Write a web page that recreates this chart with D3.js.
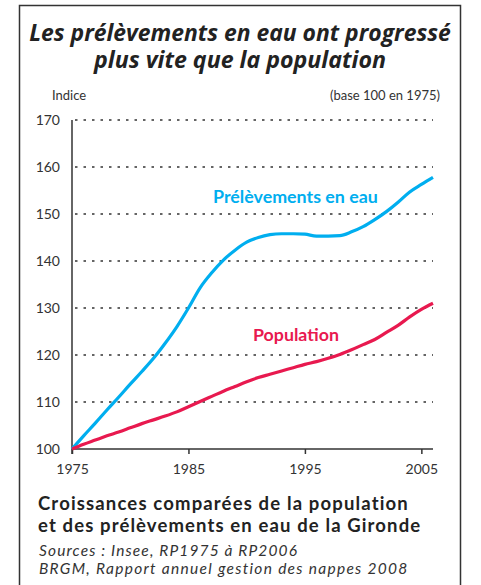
<!DOCTYPE html>
<html>
<head>
  <meta charset="utf-8">
  <title>Prélèvements en eau et population</title>
  <style>
    body { margin: 0; background: #fff; }
    svg { display: block; }
  </style>
</head>
<body>
  <div id="chart"></div>

  <script src="https://d3js.org/d3.v7.min.js"></script>
  <script>
    // Data (index, base 100 in 1975)
    const years = d3.range(1975, 2007);
    const prelevements = [100, 102.8, 105.5, 108.3, 111, 113.8, 116.5, 119.3, 122.5, 126,
      130, 134.3, 137.5, 140.2, 142.3, 144, 145, 145.6, 145.8, 145.8,
      145.7, 145.3, 145.3, 145.4, 146.2, 147.3, 148.8, 150.5, 152.5, 154.7,
      156.3, 157.8];
    const population = [100, 101, 101.9, 102.8, 103.6, 104.5, 105.4, 106.2, 107, 107.9,
      109, 110.1, 111.2, 112.3, 113.3, 114.3, 115.2, 115.9, 116.6, 117.3,
      118, 118.6, 119.3, 120.1, 121.1, 122.2, 123.3, 124.8, 126.3, 128.1,
      129.7, 131];
    const yTicks = [100, 110, 120, 130, 140, 150, 160, 170];
    const xTicks = [1975, 1985, 1995, 2005];

    const W = 481, H = 585;
    const font = "Lato, 'Open Sans', sans-serif";
    const ink = "#333";
    const blue = "#00aeef";
    const red = "#e8194f";

    const svg = d3.select("#chart").append("svg")
      .attr("width", W)
      .attr("height", H);

    // scale a text's font size so it spans the wanted width
    function fit(sel, width) {
      sel.style("font-size", "100px");
      const len = sel.node().getComputedTextLength();
      sel.style("font-size", (100 * width / len).toFixed(2) + "px");
      return sel;
    }

    // keep the font size, stretch the letter spacing to the wanted width
    function spread(sel, width) {
      const t = sel.text();
      const len = sel.node().getComputedTextLength();
      sel.style("letter-spacing", ((width - len) / (t.length - 1)).toFixed(2) + "px");
      return sel;
    }

    // frame (open at the bottom)
    svg.append("path")
      .attr("d", "M19.5,600 V5.5 H460.5 V600")
      .attr("fill", "none")
      .attr("stroke", ink)
      .attr("stroke-width", 1.5);

    // title
    const title = ["Les prélèvements en eau ont progressé", "plus vite que la population"];
    const titleW = [422, 292];
    title.forEach((t, i) => {
      const txt = svg.append("text")
        .attr("x", 240)
        .attr("y", 41 + i * 27)
        .attr("text-anchor", "middle")
        .style("font-family", "'Open Sans', sans-serif")
        .style("font-weight", "bold")
        .style("font-style", "italic")
        .attr("fill", "#222")
        .text(t);
      fit(txt, titleW[i]);
    });

    // chart area
    const x = d3.scaleLinear().domain([1975, 2006]).range([72, 433]);
    const y = d3.scaleLinear().domain([100, 170]).range([449, 120]);

    // dotted gridlines
    svg.append("g")
      .selectAll("line")
      .data(yTicks.slice(1))
      .join("line")
      .attr("x1", x(1975) + 3)
      .attr("x2", x(2006))
      .attr("y1", d => y(d))
      .attr("y2", d => y(d))
      .attr("stroke", ink)
      .attr("stroke-width", 1.3)
      .attr("stroke-dasharray", "2.5,6");

    // y axis
    const yAxis = svg.append("g")
      .attr("transform", `translate(${x(1975)},0)`)
      .call(d3.axisLeft(y).tickValues(yTicks).tickSize(0).tickPadding(12));
    yAxis.select(".domain").attr("stroke", ink).attr("stroke-width", 1.5)
      .attr("d", `M0,${y(170)}V${y(100) + 5}`);
    yAxis.selectAll("text")
      .style("font-family", font)
      .style("font-size", "14px")
      .attr("fill", ink);

    // x axis
    const xAxis = svg.append("g")
      .attr("transform", `translate(0,${y(100)})`)
      .call(d3.axisBottom(x).tickValues(xTicks).tickFormat(d3.format("d")).tickSize(5).tickPadding(10));
    xAxis.select(".domain").attr("stroke", ink).attr("stroke-width", 1.5)
      .attr("d", `M${x(1975)},0H${x(2006)}`);
    xAxis.selectAll("line").attr("stroke", ink).attr("stroke-width", 1.5);
    xAxis.selectAll("text")
      .style("font-family", font)
      .style("font-size", "14px")
      .attr("fill", ink);

    // axis captions
    svg.append("text")
      .attr("x", 52).attr("y", 100)
      .style("font-family", font).style("font-size", "13px")
      .attr("fill", ink)
      .text("Indice");
    svg.append("text")
      .attr("x", 440).attr("y", 100)
      .attr("text-anchor", "end")
      .style("font-family", font).style("font-size", "13px")
      .attr("fill", ink)
      .text("(base 100 en 1975)");

    // lines
    const line = (vals) => d3.line()
      .x((d, i) => x(years[i]))
      .y(d => y(d))
      .curve(d3.curveMonotoneX)(vals);

    svg.append("path")
      .attr("d", line(prelevements))
      .attr("fill", "none")
      .attr("stroke", blue)
      .attr("stroke-width", 3.2)
      .attr("stroke-linejoin", "round");

    svg.append("path")
      .attr("d", line(population))
      .attr("fill", "none")
      .attr("stroke", red)
      .attr("stroke-width", 3.2)
      .attr("stroke-linejoin", "round");

    // series labels
    fit(svg.append("text")
      .attr("x", 213).attr("y", 203)
      .style("font-family", font).style("font-weight", "bold")
      .attr("fill", blue)
      .text("Prélèvements en eau"), 165);

    fit(svg.append("text")
      .attr("x", 253).attr("y", 341)
      .style("font-family", font).style("font-weight", "bold")
      .attr("fill", red)
      .text("Population"), 86);

    // caption
    const caption = ["Croissances comparées de la population", "et des prélèvements en eau de la Gironde"];
    const captionW = [370, 382];
    caption.forEach((t, i) => {
      spread(svg.append("text")
        .attr("x", 38).attr("y", 510 + i * 22)
        .style("font-family", font).style("font-weight", "bold")
        .style("font-size", "18.5px")
        .attr("fill", "#222")
        .text(t), captionW[i]);
    });

    const sources = ["Sources : Insee, RP1975 à RP2006", "BRGM, Rapport annuel gestion des nappes 2008"];
    const sourcesW = [258, 368];
    sources.forEach((t, i) => {
      spread(svg.append("text")
        .attr("x", 39).attr("y", 556 + i * 18)
        .style("font-family", font).style("font-style", "italic")
        .style("font-size", "15.5px")
        .attr("fill", ink)
        .text(t), sourcesW[i]);
    });
  </script>
</body>
</html>
